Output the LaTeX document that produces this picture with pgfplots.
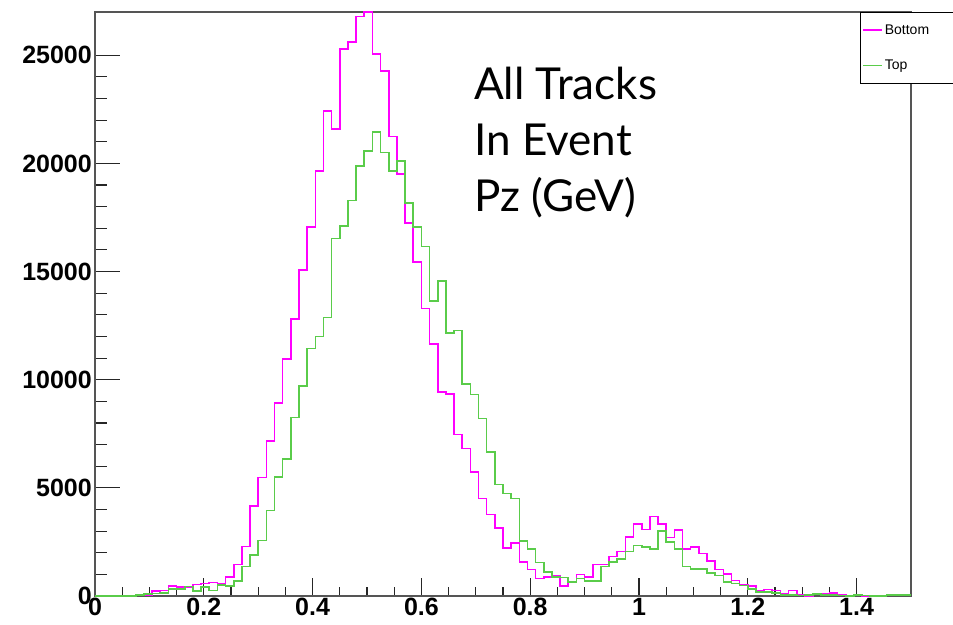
\documentclass[border=0pt]{standalone}
\usepackage{fontspec}
\setmainfont{Liberation Sans}
\newfontfamily\gill{Lato}
\usepackage{pgfplots}
\usepackage{pgfplotstable}
\pgfplotsset{compat=1.18}
\definecolor{rootmag}{RGB}{255,0,255}
\definecolor{rootgreen}{RGB}{90,204,74}
\definecolor{framegray}{RGB}{85,85,85}

\pgfplotstableread{
x b t
0.000 0 0
0.015 0 0
0.030 0 0
0.045 0 0
0.060 0 0
0.075 30 45
0.090 60 80
0.105 230 110
0.120 260 150
0.135 460 310
0.150 415 310
0.165 415 430
0.180 540 230
0.195 585 415
0.210 615 260
0.225 570 510
0.240 890 450
0.255 1450 700
0.270 2280 1370
0.285 4160 1890
0.300 5480 2570
0.315 7160 3950
0.330 8930 5510
0.345 10960 6330
0.360 12820 8260
0.375 15080 9720
0.390 17060 11440
0.405 19660 11990
0.420 22430 12870
0.435 21600 16530
0.450 25280 17100
0.465 25600 18280
0.480 26800 19880
0.495 27000 20560
0.510 25070 21460
0.525 24280 20500
0.540 21250 19660
0.555 19520 20120
0.570 17240 18160
0.585 15440 17060
0.600 13290 16160
0.615 11660 13630
0.630 9420 14550
0.645 9350 12170
0.660 7470 12270
0.675 6820 9810
0.690 5730 9320
0.705 4500 8210
0.720 3770 6670
0.735 3130 5160
0.750 2230 4740
0.765 2460 4500
0.780 1570 2540
0.795 1230 2160
0.810 800 1540
0.825 880 1110
0.840 920 890
0.855 460 850
0.870 620 650
0.885 1000 800
0.900 880 700
0.915 1450 700
0.930 1450 1370
0.945 1830 1570
0.960 2060 1720
0.975 2730 2060
0.990 3340 2340
1.005 3080 2260
1.020 3680 2160
1.035 3340 3000
1.050 2700 2500
1.065 3060 2160
1.080 2160 1370
1.095 2260 1260
1.110 1960 1260
1.125 1620 1060
1.140 1220 950
1.155 1030 650
1.170 720 570
1.185 520 490
1.200 460 310
1.215 220 185
1.230 300 185
1.245 250 150
1.260 90 60
1.275 260 45
1.290 60 15
1.305 0 60
1.320 90 90
1.335 120 60
1.350 150 60
1.365 60 30
1.380 0 0
1.395 60 60
1.410 0 30
1.425 0 0
1.440 0 0
1.455 45 60
1.470 60 60
1.485 45 45
1.500 45 45
}\histdata

\begin{document}
\begin{tikzpicture}
\path[use as bounding box] (0,0) rectangle (953pt,624pt);
\pgfplotsset{rootbase/.style={
  scale only axis, width=816pt, height=584pt,
  at={(95pt,28pt)}, anchor=south west,
  xmin=0, xmax=1.5, ymin=0, ymax=27000,
  axis line style={framegray, line width=1.5pt},
  tick style={black!85, line width=1.1pt},
  tick align=inside,
  xtick pos=left, ytick pos=left,
  /pgf/number format/assume math mode=true,
  /pgf/number format/set thousands separator={},
  ticklabel style={font=\fontsize{25}{25}\selectfont\bfseries},
  scaled ticks=false,
}}
\begin{axis}[rootbase, xtick=\empty,
  ytick={0,5000,10000,15000,20000,25000}, minor y tick num=4,
  major tick length=24.5pt, minor tick length=12pt,
  yticklabel style={inner xsep=3pt}]
\end{axis}
\begin{axis}[rootbase, ytick=\empty,
  xtick={0,0.2,0.4,0.6,0.8,1,1.2,1.4}, minor x tick num=3,
  major tick length=17.5pt, minor tick length=8.5pt,
  xticklabel style={inner ysep=2pt},
  legend cell align=left,
  legend image code/.code={\draw[#1] (0pt,0pt) -- (19pt,0pt);},
  legend style={at={(1.0515,1)}, anchor=north east, draw=black,
    fill=white, font=\fontsize{14}{14}\selectfont, row sep=20pt,
    inner xsep=2pt, inner ysep=10.5pt,
    nodes={inner sep=2pt, text width=64pt}}]
\addplot[const plot, draw=rootmag, color=rootmag, line width=1.6pt] table[x=x, y=b] {\histdata};
\addlegendentry{Bottom}
\addplot[const plot, draw=rootgreen, color=rootgreen, line width=1.6pt] table[x=x, y=t] {\histdata};
\addlegendentry{Top}
\node[anchor=base west, inner sep=0pt, font=\gill\fontsize{44}{44}\selectfont] at (rel axis cs:0.4645,0.851) {All Tracks};
\node[anchor=base west, inner sep=0pt, font=\gill\fontsize{44}{44}\selectfont] at (rel axis cs:0.4645,0.755) {In Event};
\node[anchor=base west, inner sep=0pt, font=\gill\fontsize{44}{44}\selectfont] at (rel axis cs:0.4645,0.659) {Pz (GeV)};
\end{axis}
\end{tikzpicture}
\end{document}
